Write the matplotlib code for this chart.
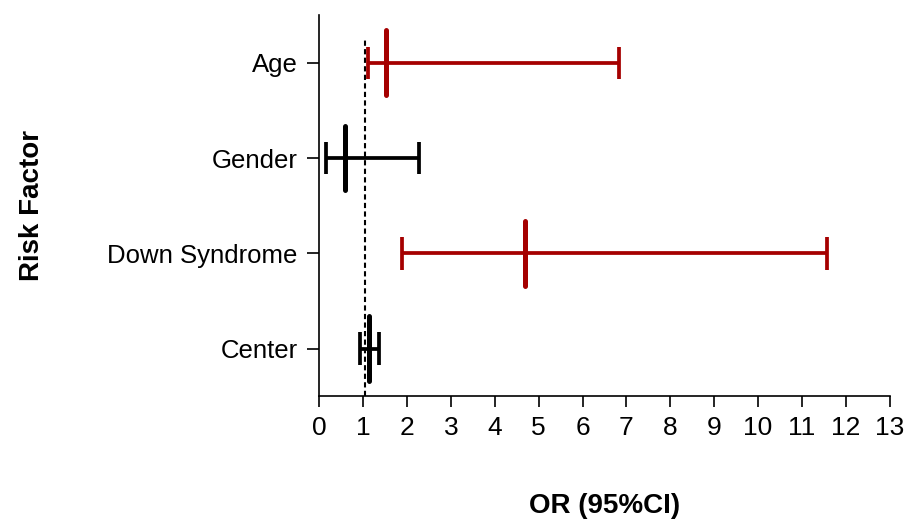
import numpy as np
import matplotlib as mpl
mpl.use('Agg')
import matplotlib.pyplot as plt

plt.rcParams['font.family'] = ['Liberation Sans', 'DejaVu Sans']

# odds ratios with 95% CI, top row first
factors = ['Age', 'Gender', 'Down Syndrome', 'Center']
odds = [1.51, 0.59, 4.68, 1.14]
ci_low = [1.11, 0.16, 1.89, 0.93]
ci_high = [6.84, 2.27, 11.56, 1.37]
colors = ['#a50000', 'black', '#a50000', 'black']
ref_line = 1.05

ypos = np.arange(len(factors), 0, -1)

fig = plt.figure(figsize=(9.07, 5.2), dpi=100)
ax = fig.add_axes([0.352, 0.238, 0.629, 0.733])

# reference line
ax.vlines(ref_line, 0.5, 4.24, colors='black', linestyles=(0, (2.5, 1.6)), linewidth=1.5, zorder=1)

for y, o, lo, hi, c in zip(ypos, odds, ci_low, ci_high, colors):
    ax.hlines(y, lo, hi, colors=c, linewidth=2.7, zorder=2)
    ax.vlines([lo, hi], y - 0.17, y + 0.17, colors=c, linewidth=2.7, zorder=2)
    ax.vlines(o, y - 0.34, y + 0.34, colors=c, linewidth=3.6, capstyle='round', zorder=3)

ax.set_xlim(0, 13)
ax.set_ylim(0.5, 4.5)
ax.set_xticks(range(0, 14))
ax.set_yticks(ypos)
ax.set_yticklabels(factors)

for s in ['top', 'right']:
    ax.spines[s].set_visible(False)
for s in ['left', 'bottom']:
    ax.spines[s].set_linewidth(1.2)

ax.tick_params(axis='y', length=8.5, width=1.2, pad=7, labelsize=18.5)
ax.tick_params(axis='x', length=8, width=1.2, pad=6, labelsize=19)

ax.set_xlabel('OR (95%CI)', fontsize=20, fontweight='bold')
ax.xaxis.set_label_coords(0.5, -0.255)
ax.set_ylabel('Risk Factor', fontsize=20, fontweight='bold')
ax.yaxis.set_label_coords(-0.48, 0.5)

plt.savefig('out.png', dpi=100)
